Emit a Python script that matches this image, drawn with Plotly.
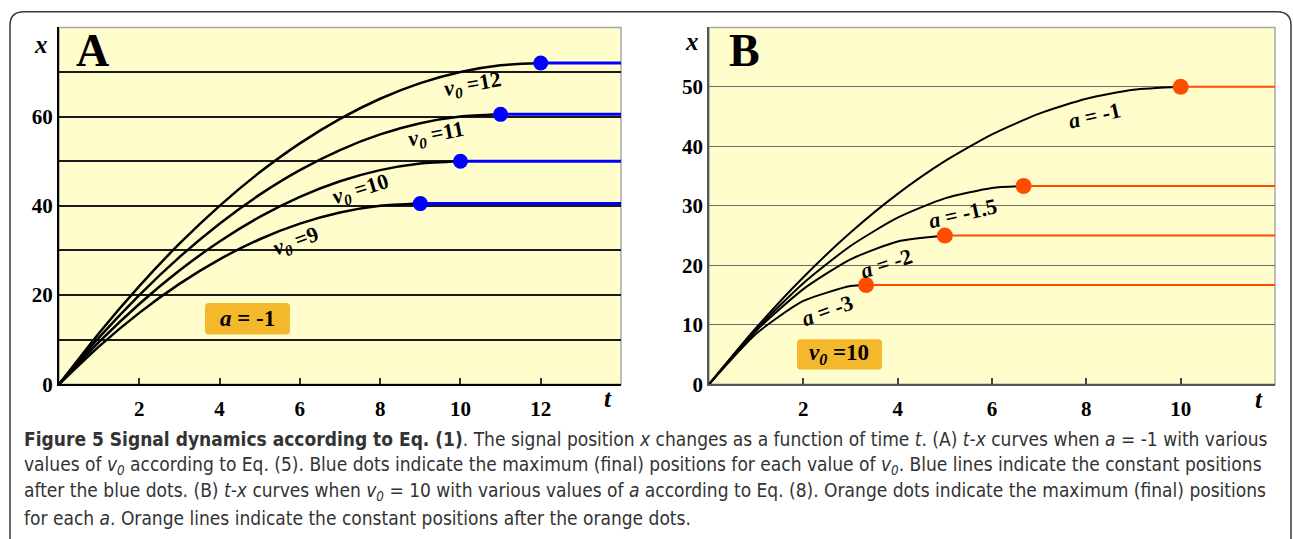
import plotly.graph_objects as go

# ---------------- data ----------------
# Panel A: a = -1, various v0
A_v0 = [9, 10, 11, 12]
A_t = {
    9:  [0, 1, 2, 3, 4, 5, 6, 7, 8, 9],
    10: [0, 1, 2, 3, 4, 5, 6, 7, 8, 9, 10],
    11: [0, 1, 2, 3, 4, 5, 6, 7, 8, 9, 10, 11],
    12: [0, 1, 2, 3, 4, 5, 6, 7, 8, 9, 10, 11, 12],
}
A_x = {
    9:  [0, 8.5, 16, 22.5, 28, 32.5, 36, 38.5, 40, 40.5],
    10: [0, 9.5, 18, 25.5, 32, 37.5, 42, 45.5, 48, 49.5, 50],
    11: [0, 10.5, 20, 28.5, 36, 42.5, 48, 52.5, 56, 58.5, 60, 60.5],
    12: [0, 11.5, 22, 31.5, 40, 47.5, 54, 59.5, 64, 67.5, 70, 71.5, 72],
}
A_end_t = [9, 10, 11, 12]
A_end_x = [40.5, 50, 60.5, 72]
A_t_max = 14
A_x_max = 80

# Panel B: v0 = 10, various a
B_a = ["-1", "-1.5", "-2", "-3"]
B_t = {
    "-1":   [0, 1, 2, 3, 4, 5, 6, 7, 8, 9, 10],
    "-1.5": [0, 1, 2, 3, 4, 5, 6, 6.67],
    "-2":   [0, 1, 2, 3, 4, 5],
    "-3":   [0, 1, 2, 3, 3.33],
}
B_x = {
    "-1":   [0, 9.5, 18, 25.5, 32, 37.5, 42, 45.5, 48, 49.5, 50],
    "-1.5": [0, 9.25, 17, 23.25, 28, 31.25, 33, 33.33],
    "-2":   [0, 9, 16, 21, 24, 25],
    "-3":   [0, 8.5, 14, 16.5, 16.67],
}
B_end_t = [10, 6.67, 5, 3.33]
B_end_x = [50, 33.33, 25, 16.67]
B_t_max = 12
B_x_max = 60

A_xticks = [2, 4, 6, 8, 10, 12]
A_yticks = [0, 20, 40, 60]
A_yminor = [10, 30, 50, 70]
B_xticks = [2, 4, 6, 8, 10]
B_yticks = [0, 10, 20, 30, 40, 50]

# ---------------- figure ----------------
W, H = 1293, 539
BG = "#FFFDCC"
BLUE = "#0000FF"
ORANGE = "#FF4D00"
BOX = "#F4B82C"
SERIF = "Liberation Serif, Times New Roman, serif"

def px(x):
    return x / W

def py(y):
    return 1 - y / H

fig = go.Figure()

for v in A_v0:
    fig.add_trace(go.Scatter(x=A_t[v], y=A_x[v], mode="lines",
                             line=dict(color="black", width=2.5, shape="spline", smoothing=0.6),
                             xaxis="x", yaxis="y", showlegend=False, hoverinfo="skip"))
for te, xe in zip(A_end_t, A_end_x):
    fig.add_trace(go.Scatter(x=[te, A_t_max], y=[xe, xe], mode="lines",
                             line=dict(color=BLUE, width=3),
                             xaxis="x", yaxis="y", showlegend=False, hoverinfo="skip"))
fig.add_trace(go.Scatter(x=A_end_t, y=A_end_x, mode="markers",
                         marker=dict(color=BLUE, size=15),
                         xaxis="x", yaxis="y", showlegend=False, hoverinfo="skip"))

for a in B_a:
    fig.add_trace(go.Scatter(x=B_t[a], y=B_x[a], mode="lines",
                             line=dict(color="black", width=2, shape="spline", smoothing=0.6),
                             xaxis="x2", yaxis="y2", showlegend=False, hoverinfo="skip"))
for te, xe in zip(B_end_t, B_end_x):
    fig.add_trace(go.Scatter(x=[te, B_t_max], y=[xe, xe], mode="lines",
                             line=dict(color=ORANGE, width=2),
                             xaxis="x2", yaxis="y2", showlegend=False, hoverinfo="skip"))
fig.add_trace(go.Scatter(x=B_end_t, y=B_end_x, mode="markers",
                         marker=dict(color=ORANGE, size=16),
                         xaxis="x2", yaxis="y2", showlegend=False, hoverinfo="skip"))

ydom = [py(393), py(28)]
tickfont = dict(family=SERIF, size=21, color="black", weight="bold")

fig.update_layout(
    width=W, height=H, margin=dict(l=0, r=0, t=0, b=0),
    paper_bgcolor="white", plot_bgcolor=BG,
    xaxis=dict(domain=[px(59), px(621)], range=[0, A_t_max], tickvals=A_xticks,
               ticks="inside", ticklen=6, tickwidth=1.5, tickcolor="#333", ticklabelstandoff=5,
               showgrid=False, zeroline=False, showline=True, linecolor="black", linewidth=2,
               tickfont=tickfont, anchor="y", fixedrange=True),
    yaxis=dict(domain=ydom, range=[0, A_x_max], tickvals=A_yticks,
               ticks="", showgrid=True, gridcolor="#1a1a1a", gridwidth=1.6, zeroline=False,
               minor=dict(tickvals=A_yminor, showgrid=True, gridcolor="#1a1a1a", gridwidth=1.6,
                          ticks=""),
               showline=True, linecolor="black", linewidth=2, tickfont=tickfont,
               anchor="x", fixedrange=True),
    xaxis2=dict(domain=[px(709), px(1275)], range=[0, B_t_max], tickvals=B_xticks,
                ticks="inside", ticklen=6, tickwidth=1.5, tickcolor="#444", ticklabelstandoff=5,
                showgrid=False, zeroline=False, showline=True, linecolor="#555", linewidth=1.6,
                tickfont=tickfont, anchor="y2", fixedrange=True),
    yaxis2=dict(domain=ydom, range=[0, B_x_max], tickvals=B_yticks,
                ticks="", showgrid=True, gridcolor="#6a6a6a", gridwidth=1.2, zeroline=False,
                showline=True, linecolor="#555", linewidth=1.6, tickfont=tickfont,
                anchor="x2", fixedrange=True),
)

shapes = []
# plot area frames (gray, top/right)
for xr, yr in (("x domain", "y domain"), ("x2 domain", "y2 domain")):
    shapes.append(dict(type="rect", xref=xr, yref=yr, x0=0, x1=1, y0=0, y1=1,
                       line=dict(color="#A8A8A8", width=1.5), fillcolor="rgba(0,0,0,0)",
                       layer="below"))

def rounded(x0, y0, x1, y1, r):
    rx, ry = r / W, r / H
    X0, X1 = px(x0), px(x1)
    Y0, Y1 = py(y0), py(y1)  # Y0 top, Y1 bottom
    return (f"M {X0+rx},{Y0} L {X1-rx},{Y0} Q {X1},{Y0} {X1},{Y0-ry} "
            f"L {X1},{Y1+ry} Q {X1},{Y1} {X1-rx},{Y1} L {X0+rx},{Y1} "
            f"Q {X0},{Y1} {X0},{Y1+ry} L {X0},{Y0-ry} Q {X0},{Y0} {X0+rx},{Y0} Z")

# outer figure border
shapes.append(dict(type="path", xref="paper", yref="paper", path=rounded(10, 12, 1291, 580, 14),
                   line=dict(color="#3a3a3a", width=1.5), fillcolor="rgba(0,0,0,0)"))
# orange label boxes
shapes.append(dict(type="path", xref="paper", yref="paper", path=rounded(205, 310, 290, 342, 4),
                   line=dict(width=0), fillcolor=BOX, layer="above"))
shapes.append(dict(type="path", xref="paper", yref="paper", path=rounded(797, 347, 882, 378, 4),
                   line=dict(width=0), fillcolor=BOX, layer="above"))
fig.update_layout(shapes=shapes)

ann = []
def txt(x, y, s, size=20, angle=0, family=SERIF, color="black", xanchor="center"):
    ann.append(dict(x=px(x), y=py(y), xref="paper", yref="paper", text=s, showarrow=False,
                    textangle=angle, xanchor=xanchor, yanchor="middle",
                    font=dict(family=family, size=size, color=color)))

# panel letters and axis titles
txt(92, 52, "<b>A</b>", size=46)
txt(744, 52, "<b>B</b>", size=46)
txt(41, 46, "<b><i>x</i></b>", size=25)
txt(692, 42, "<b><i>x</i></b>", size=25)
txt(608, 408, "<b><i>t</i></b>", size=25)
txt(1259, 409, "<b><i>t</i></b>", size=25)

# curve labels, panel A
def v0lab(n):
    return f"<b><i>v</i><sub><i>0</i></sub> ={n}</b>"
txt(473, 87, v0lab(12), size=22, angle=-10)
txt(436, 138, v0lab(11), size=22, angle=-11)
txt(361, 194, v0lab(10), size=22, angle=-17)
txt(296, 248, v0lab(9), size=22, angle=-20)

# curve labels, panel B
txt(1094, 118, "<b><i>a</i> = -1</b>", size=22, angle=-13)
txt(962, 218, "<b><i>a</i> = -1.5</b>", size=22, angle=-13)
txt(886, 270, "<b><i>a</i> = -2</b>", size=22, angle=-18)
txt(827, 318, "<b><i>a</i> = -3</b>", size=22, angle=-20)

# boxed parameter labels
txt(247, 326, "<b><i>a</i> = -1</b>", size=23)
txt(839, 362, "<b><i>v</i><sub><i>0</i></sub> =10</b>", size=23)

# caption
CAP = "DejaVu Sans Condensed, DejaVu Sans, sans-serif"
cap_lines = [
    "<b>Figure 5 Signal dynamics according to Eq. (1)</b>. The signal position <i>x</i> changes as a function of time <i>t</i>. (A) <i>t-x</i> curves when <i>a</i> = -1 with various",
    "values of <i>v<sub>0</sub></i> according to Eq. (5). Blue dots indicate the maximum (final) positions for each value of <i>v<sub>0</sub></i>. Blue lines indicate the constant positions",
    "after the blue dots. (B) <i>t-x</i> curves when <i>v<sub>0</sub></i> = 10 with various values of <i>a</i> according to Eq. (8). Orange dots indicate the maximum (final) positions",
    "for each <i>a</i>. Orange lines indicate the constant positions after the orange dots.",
]
cap_y = [449, 476, 503, 530]
for yy, line in zip(cap_y, cap_lines):
    txt(22, yy, line, size=19, family=CAP, color="#333333", xanchor="left")

fig.update_layout(annotations=ann)
fig.write_html("out.html", config={"displayModeBar": False},
               post_script="document.body.style.margin='0';document.body.style.overflow='hidden';")
